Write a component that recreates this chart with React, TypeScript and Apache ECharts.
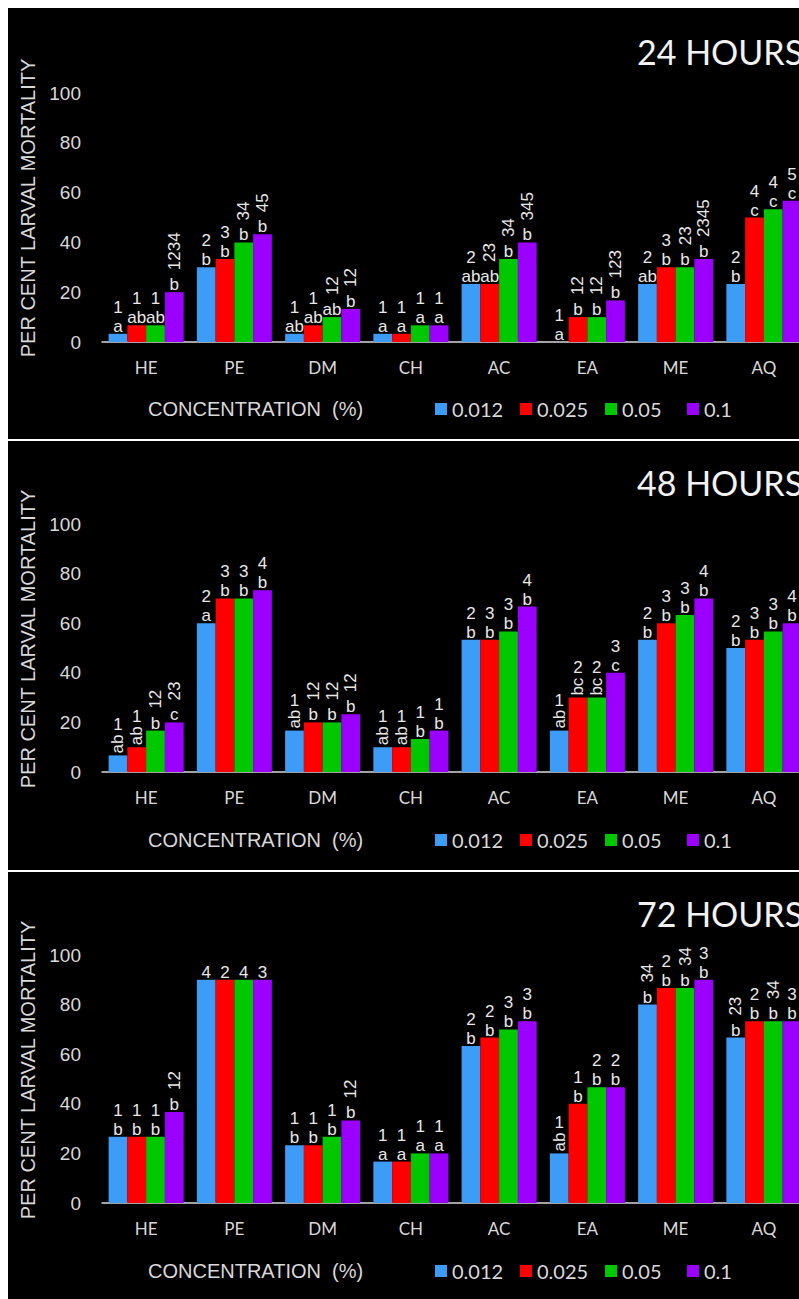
import React, { useEffect, useRef } from "react";
import * as echarts from "echarts";

const categories = ["HE", "PE", "DM", "CH", "AC", "EA", "ME", "AQ"];
const concentrations = ["0.012", "0.025", "0.05", "0.1"];
const barColors = ["#3d9cf5", "#ff0000", "#00c800", "#9b00ff"];
const panelTitles = ["24 HOURS", "48 HOURS", "72 HOURS"];

// 24 hours
const h24_c012 = [3.3, 30, 3.3, 3.3, 23.3, 0, 23.3, 23.3];
const h24_c025 = [6.7, 33.3, 6.7, 3.3, 23.3, 10, 30, 50];
const h24_c05 = [6.7, 40, 10, 6.7, 33.3, 10, 30, 53.3];
const h24_c1 = [20, 43.3, 13.3, 6.7, 40, 16.7, 33.3, 56.7];
const h24_let012 = ["a", "b", "ab", "a", "ab", "a", "ab", "b"];
const h24_let025 = ["ab", "b", "ab", "a", "ab", "b", "b", "c"];
const h24_let05 = ["ab", "b", "ab", "a", "b", "b", "b", "c"];
const h24_let1 = ["b", "b", "b", "a", "b", "b", "b", "c"];
const h24_dig012 = ["1", "2", "1", "1", "2", "1", "2", "2"];
const h24_dig025 = ["1", "3", "1", "1", "23", "12", "3", "4"];
const h24_dig05 = ["1", "34", "12", "1", "34", "12", "23", "4"];
const h24_dig1 = ["1234", "45", "12", "1", "345", "123", "2345", "5"];

// 48 hours
const h48_c012 = [6.7, 60, 16.7, 10, 53.3, 16.7, 53.3, 50];
const h48_c025 = [10, 70, 20, 10, 53.3, 30, 60, 53.3];
const h48_c05 = [16.7, 70, 20, 13.3, 56.7, 30, 63.3, 56.7];
const h48_c1 = [20, 73.3, 23.3, 16.7, 66.7, 40, 70, 60];
const h48_let012 = ["ab", "a", "ab", "ab", "b", "ab", "b", "b"];
const h48_let025 = ["ab", "b", "b", "ab", "b", "bc", "b", "b"];
const h48_let05 = ["b", "b", "b", "b", "b", "bc", "b", "b"];
const h48_let1 = ["c", "b", "b", "b", "b", "c", "b", "b"];
const h48_dig012 = ["1", "2", "1", "1", "2", "1", "2", "2"];
const h48_dig025 = ["1", "3", "12", "1", "3", "2", "3", "3"];
const h48_dig05 = ["12", "3", "12", "1", "3", "2", "3", "3"];
const h48_dig1 = ["23", "4", "12", "1", "4", "3", "4", "4"];

// 72 hours
const h72_c012 = [26.7, 90, 23.3, 16.7, 63.3, 20, 80, 66.7];
const h72_c025 = [26.7, 90, 23.3, 16.7, 66.7, 40, 86.7, 73.3];
const h72_c05 = [26.7, 90, 26.7, 20, 70, 46.7, 86.7, 73.3];
const h72_c1 = [36.7, 90, 33.3, 20, 73.3, 46.7, 90, 73.3];
const h72_let012 = ["b", "", "b", "a", "b", "ab", "b", "b"];
const h72_let025 = ["b", "", "b", "a", "b", "b", "b", "b"];
const h72_let05 = ["b", "", "b", "a", "b", "b", "b", "b"];
const h72_let1 = ["b", "", "b", "a", "b", "b", "b", "b"];
const h72_dig012 = ["1", "4", "1", "1", "2", "1", "34", "23"];
const h72_dig025 = ["1", "2", "1", "1", "2", "1", "2", "2"];
const h72_dig05 = ["1", "4", "1", "1", "3", "2", "34", "34"];
const h72_dig1 = ["12", "3", "12", "1", "3", "2", "3", "3"];

const panelValues = [
  [h24_c012, h24_c025, h24_c05, h24_c1],
  [h48_c012, h48_c025, h48_c05, h48_c1],
  [h72_c012, h72_c025, h72_c05, h72_c1],
];
const panelLetters = [
  [h24_let012, h24_let025, h24_let05, h24_let1],
  [h48_let012, h48_let025, h48_let05, h48_let1],
  [h72_let012, h72_let025, h72_let05, h72_let1],
];
const panelDigits = [
  [h24_dig012, h24_dig025, h24_dig05, h24_dig1],
  [h48_dig012, h48_dig025, h48_dig05, h48_dig1],
  [h72_dig012, h72_dig025, h72_dig05, h72_dig1],
];
const rotateLetterPairs = [false, true, true];

// layout (chart coordinates)
const CHART_W = 830;
const CHART_H = 1291;
const gridTops = [85, 516, 947];
const gridHeights = [249, 248, 248];
const GRID_LEFT = 94;
const GRID_W = 706;
const panelOffsets = [0, 431, 862];
const separatorsY = [431, 862];

const TXT = "#e8e8e8";
const AXIS_TXT = "#d9d9d9";
const LABEL_FONT = "'Liberation Sans', Arial, sans-serif";
const LABEL_SIZE = 17;

function letterLabel(l: string, rotPairs: boolean) {
  if (rotPairs && l.length >= 2)
    return { rotate: 90, align: "left", verticalAlign: "middle", distance: 2 };
  return { rotate: 0, align: "center", verticalAlign: "bottom", distance: -1 };
}

function digitLabel(d: string, l: string, rotPairs: boolean) {
  const letRot = rotPairs && l.length >= 2;
  const hasLet = l.length > 0;
  if (d.length >= 2) {
    return { rotate: 90, align: "left", verticalAlign: "middle", distance: hasLet ? (letRot ? 24 : 22) : 2 };
  }
  return { rotate: 0, align: "center", verticalAlign: "bottom", distance: hasLet ? (letRot ? 22 : 18) : -1 };
}

function buildOption() {
  const grid: any[] = [];
  const xAxis: any[] = [];
  const yAxis: any[] = [];
  const series: any[] = [];
  const legend: any[] = [];
  const title: any[] = [];
  const graphic: any[] = [];
  const legendLefts = [427, 512, 597, 679];

  for (let p = 0; p < 3; p++) {
    grid.push({ left: GRID_LEFT, top: gridTops[p], width: GRID_W, height: gridHeights[p] });
    xAxis.push({
      type: "category",
      gridIndex: p,
      data: categories,
      axisLine: { show: true, lineStyle: { color: AXIS_TXT, width: 1.5 } },
      axisTick: { show: false },
      axisLabel: { color: AXIS_TXT, fontFamily: "Lato", fontSize: 17, margin: 17 },
    });
    yAxis.push({
      type: "value",
      gridIndex: p,
      min: 0,
      max: 100,
      interval: 20,
      axisLine: { show: false },
      axisTick: { show: false },
      splitLine: { show: false },
      axisLabel: { color: AXIS_TXT, fontFamily: LABEL_FONT, fontSize: 19, margin: 21 },
    });
    title.push({
      text: panelTitles[p],
      left: 629,
      top: panelOffsets[p] + 26,
      padding: 0,
      textStyle: { color: "#f2f2f2", fontFamily: "Lato", fontSize: 34, fontWeight: "normal" },
    });
    const rotPairs = rotateLetterPairs[p];
    for (let s = 0; s < 4; s++) {
      const vals = panelValues[p][s];
      const lets = panelLetters[p][s];
      const digs = panelDigits[p][s];
      const stack = `p${p}s${s}`;
      const common = {
        type: "bar",
        xAxisIndex: p,
        yAxisIndex: p,
        stack,
        barGap: "0%",
        barCategoryGap: "15%",
      };
      const baseLabel = {
        show: true,
        position: "top",
        color: TXT,
        fontFamily: LABEL_FONT,
        fontSize: LABEL_SIZE,
      };
      series.push({
        ...common,
        name: concentrations[s],
        itemStyle: { color: barColors[s] },
        label: { show: false },
        data: vals,
      });
      series.push({
        ...common,
        name: `letters-${p}-${s}`,
        itemStyle: { color: "rgba(0,0,0,0)" },
        label: { ...baseLabel, formatter: (prm: any) => lets[prm.dataIndex] },
        data: vals.map((_v, i) => ({ value: 0, label: letterLabel(lets[i], rotPairs) })),
      });
      series.push({
        ...common,
        name: `digits-${p}-${s}`,
        itemStyle: { color: "rgba(0,0,0,0)" },
        label: { ...baseLabel, formatter: (prm: any) => digs[prm.dataIndex] },
        data: vals.map((_v, i) => ({ value: 0, label: digitLabel(digs[i], lets[i], rotPairs) })),
      });
      legend.push({
        data: [concentrations[s]],
        left: legendLefts[s],
        top: panelOffsets[p] + 391,
        padding: 0,
        itemWidth: 12,
        itemHeight: 12,
        icon: "rect",
        selectedMode: false,
        textStyle: { color: AXIS_TXT, fontFamily: "Lato", fontSize: 20 },
      });
    }
    graphic.push({
      type: "text",
      x: 140,
      y: panelOffsets[p] + 401,
      style: {
        text: "CONCENTRATION  (%)",
        fill: AXIS_TXT,
        fontFamily: LABEL_FONT,
        fontSize: 20,
        align: "left",
        verticalAlign: "middle",
      },
    });
    graphic.push({
      type: "text",
      x: 20,
      y: panelOffsets[p] + 200,
      rotation: Math.PI / 2,
      style: {
        text: "PER CENT LARVAL MORTALITY",
        fill: AXIS_TXT,
        fontFamily: LABEL_FONT,
        fontSize: 20,
        align: "center",
        verticalAlign: "middle",
      },
    });
  }
  for (const y of separatorsY) {
    graphic.push({
      type: "rect",
      shape: { x: 0, y, width: CHART_W, height: 2 },
      style: { fill: "#ffffff" },
    });
  }

  return {
    animation: false,
    backgroundColor: "#000000",
    title,
    legend,
    grid,
    xAxis,
    yAxis,
    series,
    graphic,
  };
}

export default function App() {
  const ref = useRef<HTMLDivElement>(null);
  useEffect(() => {
    const chart = echarts.init(ref.current as HTMLDivElement, null, { renderer: "svg" });
    chart.setOption(buildOption() as any);
    return () => chart.dispose();
  }, []);
  return (
    <div
      style={{
        position: "fixed",
        left: 8,
        top: 8,
        right: 0,
        bottom: 0,
        overflow: "hidden",
      }}
    >
      <div ref={ref} style={{ width: CHART_W, height: CHART_H }} />
    </div>
  );
}
